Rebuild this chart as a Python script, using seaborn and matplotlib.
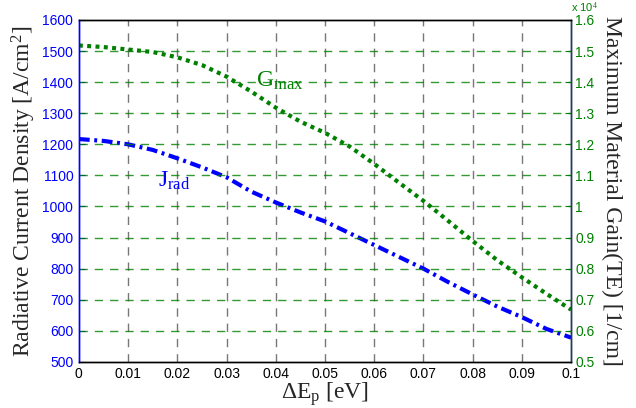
import matplotlib
matplotlib.use("Agg")
import matplotlib.pyplot as plt
import seaborn as sns
import numpy as np
import pandas as pd

delta_ep = [0.0, 0.005, 0.01, 0.015, 0.02, 0.025, 0.03, 0.035, 0.04, 0.045, 0.05,
            0.055, 0.06, 0.065, 0.07, 0.075, 0.08, 0.085, 0.09, 0.095, 0.1]
j_rad = [1217, 1211, 1200, 1182, 1155, 1126, 1094, 1048, 1013, 981, 952,
         914, 876, 838, 800, 757, 717, 678, 644, 606, 578]
g_max = [1.518, 1.513, 1.505, 1.497, 1.480, 1.455, 1.418, 1.370, 1.318, 1.273, 1.237,
         1.193, 1.137, 1.077, 1.018, 0.954, 0.889, 0.827, 0.772, 0.719, 0.668]
x_ticks = [0, 0.01, 0.02, 0.03, 0.04, 0.05, 0.06, 0.07, 0.08, 0.09, 0.1]
x_tick_labels = ["0", "0.01", "0.02", "0.03", "0.04", "0.05", "0.06", "0.07", "0.08", "0.09", "0.1"]
left_ticks = list(range(500, 1601, 100))
right_ticks = [0.5, 0.6, 0.7, 0.8, 0.9, 1.0, 1.1, 1.2, 1.3, 1.4, 1.5, 1.6]
right_tick_labels = ["0.5", "0.6", "0.7", "0.8", "0.9", "1", "1.1", "1.2", "1.3", "1.4", "1.5", "1.6"]

sns.set_style("white")
plt.rcParams['font.family'] = ['Liberation Sans', 'DejaVu Sans']
plt.rcParams['mathtext.fontset'] = 'custom'
plt.rcParams['mathtext.rm'] = 'Liberation Serif'
plt.rcParams['mathtext.it'] = 'Liberation Serif'

BLUE = "#0000ff"
GREEN = "#008000"

df = pd.DataFrame({"x": delta_ep, "j": j_rad, "g": g_max})

fig = plt.figure(figsize=(6.36, 4.08), dpi=100)
ax = fig.add_axes([0.124, 0.113, 0.774, 0.838])
ax2 = ax.twinx()

sns.lineplot(data=df, x="x", y="j", ax=ax, color=BLUE, lw=3.0)
ax.lines[-1].set_dashes([2.6, 1.1, 0.7, 1.1])
ax.lines[-1].set_dash_capstyle('butt')
sns.lineplot(data=df, x="x", y="g", ax=ax2, color=GREEN, lw=3.0)
ax2.lines[-1].set_dashes([0.95, 1.05])
ax2.lines[-1].set_dash_capstyle('butt')

ax.set_xlim(0, 0.1)
ax.set_ylim(500, 1600)
ax2.set_ylim(0.5, 1.6)
ax.set_xticks(x_ticks)
ax.set_xticklabels(x_tick_labels)
ax.set_yticks(left_ticks)
ax2.set_yticks(right_ticks)
ax2.set_yticklabels(right_tick_labels)

ax.tick_params(axis='x', labelsize=10, colors='black', direction='in', length=4, pad=4)
ax.tick_params(axis='y', labelsize=10, colors=BLUE, direction='in', length=4, pad=4)
ax2.tick_params(axis='y', labelsize=10, colors=GREEN, direction='in', length=4, pad=3)

# grids
for xv in x_ticks[1:-1]:
    ax.axvline(xv, color='#555555', lw=1.0, dashes=(6, 5), alpha=0.8, zorder=0)
for yv in right_ticks[1:-1]:
    ax2.axhline(yv, color=GREEN, lw=1.0, dashes=(6, 5), alpha=0.8, zorder=0)

for a in (ax, ax2):
    for s in a.spines.values():
        s.set_visible(True)
        s.set_color('black')
        s.set_linewidth(1.0)
ax.spines['left'].set_color(BLUE)
ax2.spines['left'].set_color(BLUE)
ax2.spines['right'].set_color('#1a3a80')

ax.set_xlabel(r"$\Delta$E$_\mathrm{p}$ [eV]", fontsize=17, family='Liberation Serif', labelpad=-1)
ax.set_ylabel(r"Radiative Current Density [A/cm$^2$]", fontsize=17, family='Liberation Serif', labelpad=3)
ax2.set_ylabel("Maximum Material Gain(TE) [1/cm]", fontsize=17, family='Liberation Serif',
               rotation=270, labelpad=20)

fig.text(0.898, 0.999, r"x 10$^4$", color=GREEN, fontsize=8, ha='left', va='top',
         transform=fig.transFigure)

ax2.text(0.036, 1.385, r"G$_\mathrm{max}$", color=GREEN, fontsize=17, family='Liberation Serif')
ax.text(0.016, 1065, r"J$_\mathrm{rad}$", color=BLUE, fontsize=17, family='Liberation Serif')

fig.savefig("out.png", dpi=100)
